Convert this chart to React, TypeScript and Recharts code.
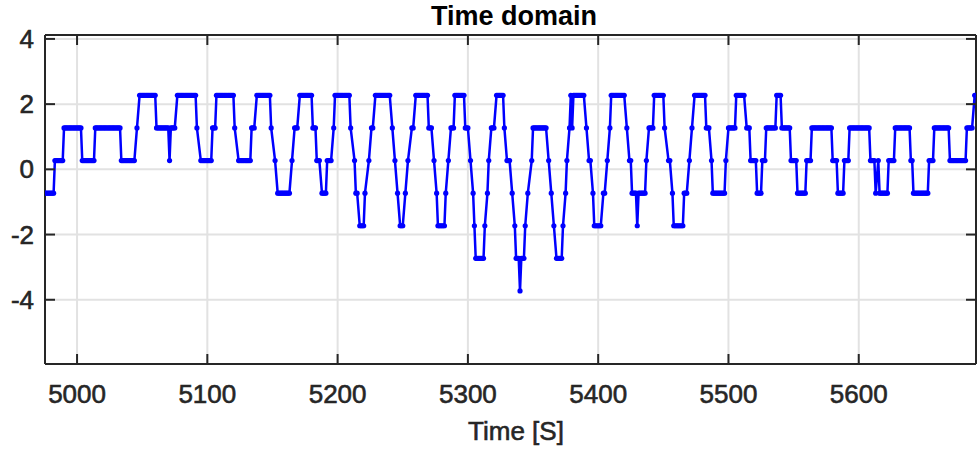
import { LineChart, Line, XAxis, YAxis, CartesianGrid, ReferenceLine } from "recharts";

// each run = [first second, last second, level]; one sample per second inside a run
type Run = [number, number, number];

const runs1: Run[] = [
  [4975, 4982, -0.73], [4983, 4989, 0.27], [4990, 5003, 1.27], [5004, 5013, 0.27],
  [5014, 5033, 1.27], [5034, 5044, 0.27], [5046, 5046, 1.27], [5048, 5060, 2.27],
  [5061, 5070, 1.27], [5071, 5071, 0.27], [5072, 5075, 1.27], [5077, 5091, 2.27],
  [5092, 5092, 1.27], [5095, 5103, 0.27], [5104, 5106, 1.27], [5107, 5120, 2.27],
  [5121, 5121, 1.27], [5124, 5133, 0.27], [5134, 5136, 1.27], [5138, 5148, 2.27],
  [5149, 5149, 1.27],
];

const runs2: Run[] = [
  [5152, 5152, 0.27], [5154, 5163, -0.73], [5165, 5165, 0.27], [5167, 5169, 1.27],
  [5171, 5180, 2.27], [5181, 5183, 1.27], [5184, 5186, 0.27], [5188, 5191, -0.73],
  [5192, 5195, 0.27], [5197, 5197, 1.27], [5198, 5209, 2.27], [5210, 5210, 1.27],
  [5213, 5213, 0.27], [5214, 5215, -0.73], [5217, 5220, -1.73], [5221, 5221, -0.73],
  [5224, 5224, 0.27], [5226, 5227, 1.27], [5229, 5240, 2.27], [5242, 5242, 1.27],
  [5244, 5244, 0.27], [5246, 5246, -0.73], [5248, 5250, -1.73], [5252, 5252, -0.73],
  [5254, 5254, 0.27], [5257, 5258, 1.27], [5260, 5269, 2.27], [5270, 5272, 1.27],
  [5274, 5274, 0.27], [5276, 5276, -0.73], [5277, 5282, -1.73], [5283, 5283, -0.73],
  [5285, 5285, 0.27], [5287, 5289, 1.27], [5290, 5297, 2.27], [5298, 5300, 1.27],
  [5302, 5302, 0.27], [5304, 5304, -0.73], [5305, 5305, -1.73], [5306, 5312, -2.73],
  [5313, 5313, -1.73], [5315, 5315, -0.73], [5316, 5316, 0.27], [5318, 5320, 1.27],
  [5322, 5327, 2.27], [5328, 5328, 1.27],
];

const runs3: Run[] = [
  [5330, 5332, 0.27], [5334, 5334, -0.73], [5336, 5336, -1.73], [5337, 5339, -2.73],
  [5340, 5340, -3.73], [5341, 5343, -2.73], [5344, 5344, -1.73], [5346, 5346, -0.73],
  [5349, 5349, 0.27], [5350, 5360, 1.27], [5362, 5362, 0.27], [5364, 5364, -0.73],
  [5366, 5366, -1.73], [5368, 5372, -2.73], [5373, 5373, -1.73], [5375, 5375, -0.73],
  [5376, 5376, 0.27], [5378, 5378, 1.27], [5379, 5379, 2.27], [5380, 5380, 1.27],
  [5381, 5389, 2.27], [5391, 5391, 1.27], [5393, 5394, 0.27], [5396, 5396, -0.73],
  [5397, 5402, -1.73], [5404, 5405, -0.73], [5407, 5407, 0.27], [5409, 5409, 1.27],
  [5410, 5420, 2.27], [5422, 5422, 1.27], [5424, 5425, 0.27], [5426, 5429, -0.73],
  [5430, 5430, -1.73], [5431, 5436, -0.73], [5437, 5437, 0.27], [5439, 5442, 1.27],
  [5443, 5450, 2.27], [5451, 5451, 1.27], [5454, 5455, 0.27], [5457, 5457, -0.73],
  [5458, 5465, -1.73], [5466, 5468, -0.73], [5470, 5470, 0.27], [5472, 5472, 1.27],
  [5474, 5482, 2.27], [5483, 5485, 1.27], [5487, 5487, 0.27], [5488, 5497, -0.73],
  [5498, 5498, 0.27], [5500, 5505, 1.27],
];

const runs4: Run[] = [
  [5506, 5512, 2.27], [5514, 5516, 1.27], [5517, 5521, 0.27], [5522, 5525, -0.73],
  [5526, 5528, 0.27], [5529, 5536, 1.27], [5537, 5540, 2.27], [5541, 5547, 1.27],
  [5548, 5552, 0.27], [5553, 5559, -0.73], [5560, 5563, 0.27], [5564, 5579, 1.27],
  [5580, 5583, 0.27], [5584, 5588, -0.73], [5589, 5592, 0.27], [5593, 5608, 1.27],
  [5609, 5612, 0.27], [5613, 5613, -0.73], [5615, 5615, 0.27], [5616, 5622, -0.73],
  [5623, 5627, 0.27], [5628, 5639, 1.27], [5640, 5641, 0.27], [5642, 5653, -0.73],
  [5654, 5657, 0.27], [5658, 5669, 1.27], [5670, 5682, 0.27], [5683, 5687, 1.27],
  [5689, 5690, 2.27],
];

const xTicks = [5000, 5100, 5200, 5300, 5400, 5500, 5600];
const yTicks = [-4, -2, 0, 2, 4];
const xDomain: [number, number] = [4975.4, 5690];
const yDomain: [number, number] = [-5.97, 4.12];

const data = [...runs1, ...runs2, ...runs3, ...runs4].flatMap(([t0, t1, v]) => {
  const pts: { t: number; v: number }[] = [];
  for (let t = t0; t <= t1; t++) pts.push({ t, v });
  return pts;
});

const AXIS = "#262626";
const FONT = "'Liberation Sans', Arial, Helvetica, sans-serif";
const TOP = 35;
const RIGHT = 976;

function XTick({ x, y, payload }: any) {
  return (
    <g>
      <line x1={x} x2={x} y1={y} y2={y - 10} stroke={AXIS} strokeWidth={2} />
      <line x1={x} x2={x} y1={TOP} y2={TOP + 10} stroke={AXIS} strokeWidth={2} />
      <text x={x} y={y + 39} textAnchor="middle" fontSize={26} fill={AXIS} stroke={AXIS} strokeWidth={0.6} fontFamily={FONT}>
        {payload.value}
      </text>
    </g>
  );
}

function YTick({ x, y, payload }: any) {
  return (
    <g>
      <line x1={x} x2={x + 10} y1={y} y2={y} stroke={AXIS} strokeWidth={2} />
      <line x1={RIGHT} x2={RIGHT - 10} y1={y} y2={y} stroke={AXIS} strokeWidth={2} />
      <text x={x - 11} y={y} dy="0.35em" textAnchor="end" fontSize={26} fill={AXIS} stroke={AXIS} strokeWidth={0.6} fontFamily={FONT}>
        {payload.value}
      </text>
    </g>
  );
}

export default function App() {
  return (
    <div style={{ position: "relative", width: 977, height: 452, background: "#fff" }}>
      <style>{`body{margin:0}`}</style>
      <LineChart width={977} height={452} data={data} margin={{ top: TOP, right: 977 - RIGHT, bottom: 0, left: 0 }}>
        <CartesianGrid stroke="#e2e2e2" strokeWidth={2} />
        <XAxis
          dataKey="t"
          type="number"
          domain={xDomain}
          ticks={xTicks}
          allowDataOverflow
          height={88}
          tickSize={0}
          tickMargin={0}
          tickLine={false}
          axisLine={{ stroke: AXIS, strokeWidth: 2 }}
          tick={<XTick />}
        />
        <YAxis
          type="number"
          domain={yDomain}
          ticks={yTicks}
          allowDataOverflow
          width={45}
          tickSize={0}
          tickMargin={0}
          tickLine={false}
          axisLine={{ stroke: AXIS, strokeWidth: 2 }}
          tick={<YTick />}
        />
        <ReferenceLine y={yDomain[1]} stroke={AXIS} strokeWidth={2} />
        <ReferenceLine x={xDomain[1]} stroke={AXIS} strokeWidth={2} />
        <Line
          dataKey="v"
          type="linear"
          stroke="#0000ff"
          strokeWidth={2.5}
          dot={{ r: 2.6, fill: "#0000ff", stroke: "none" }}
          isAnimationActive={false}
        />
      </LineChart>
      <svg width={977} height={452} style={{ position: "absolute", left: 0, top: 0, pointerEvents: "none" }}>
        <text x={514} y={25} textAnchor="middle" fontSize={27} fontWeight="bold" fill="#000" fontFamily={FONT}>
          Time domain
        </text>
        <text x={516} y={440} textAnchor="middle" fontSize={26} fill={AXIS} stroke={AXIS} strokeWidth={0.6} fontFamily={FONT}>
          Time [S]
        </text>
      </svg>
    </div>
  );
}
